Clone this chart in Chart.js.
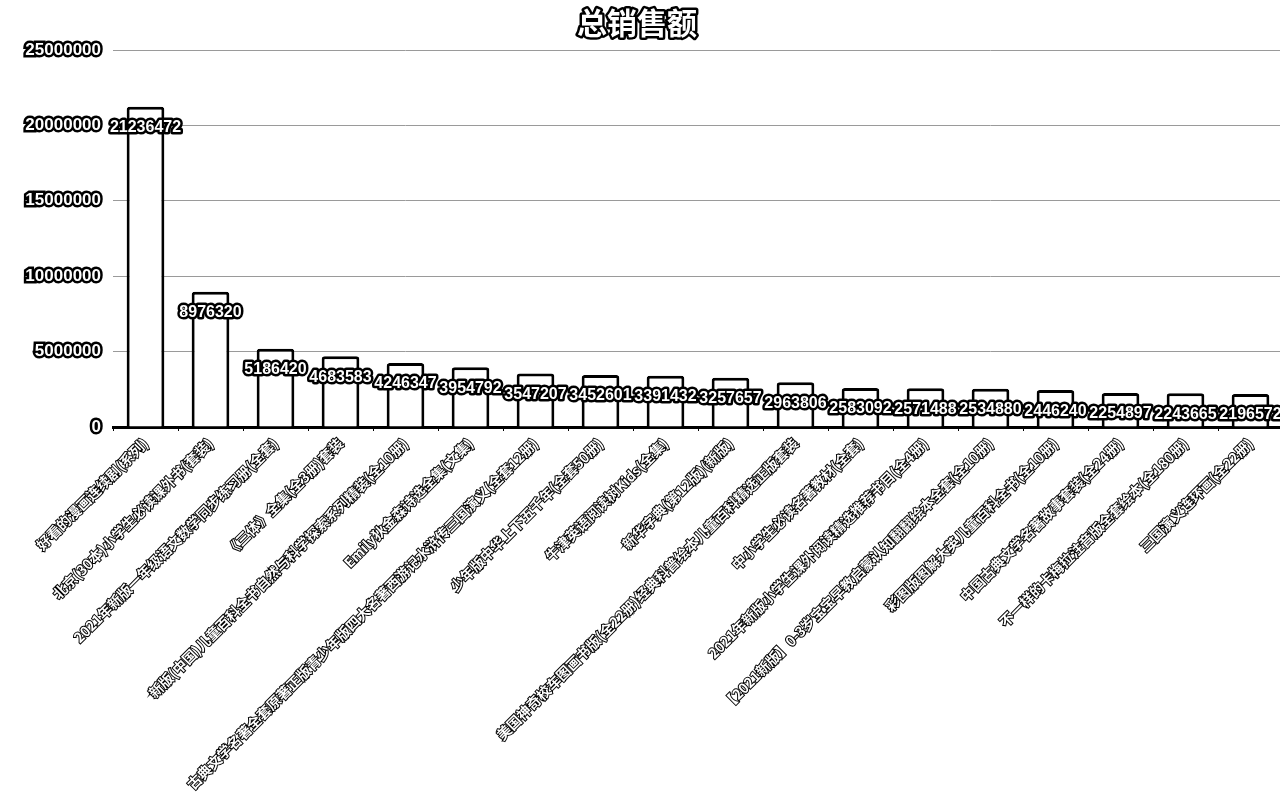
<!DOCTYPE html>
<html>
<head>
<meta charset="utf-8">
<script src="https://cdn.jsdelivr.net/npm/chart.js@4/dist/chart.umd.min.js"></script>
<style>
  html, body { margin: 0; padding: 0; background: #fff; overflow: hidden; width: 1280px; height: 800px; }
  #c { display: block; }
</style>
</head>
<body>
<canvas id="c" width="1290" height="800" style="width:1290px;height:800px"></canvas>
<script>
const chartTitle = '总销售额';
const categories = [
  '好看的漫画连续剧(系列)',
  '北京(30本)小学生必读课外书(套装)',
  '2021年新版一年级语文数学同步练习册(全套)',
  '《三体》全集(全3册)套装',
  '新版(中国)儿童百科全书自然与科学探索系列精装(全10册)',
  'Emily狄金森诗选全集(文集)',
  '古典文学名著全套原著正版青少年版四大名著西游记水浒传三国演义(全套12册)',
  '少年版中华上下五千年(全套50册)',
  '牛津英语阅读树Kids(全集)',
  '新华字典(第12版)(新版)',
  '美国神奇校车图画书版(全22册)经典科普绘本儿童百科精选正版套装',
  '中小学生必读名著教材(全套)',
  '2021年新版小学生课外阅读精选推荐书目(全4册)',
  '【2021新版】0-3岁宝宝早教启蒙认知翻翻绘本全套(全10册)',
  '彩图版图解大英儿童百科全书(全10册)',
  '中国古典文学名著故事套装(全24册)',
  '不一样的卡梅拉注音版全套绘本(全180册)',
  '三国演义连环画(全22册)'
];
const salesValues = [
  21236472, 8976320, 5186420, 4683583, 4246347, 3954792, 3547207, 3452601, 3391432,
  3257657, 2963806, 2583092, 2571488, 2534880, 2446240, 2254897, 2243665, 2196572
];
const yTickValues = [0, 5000000, 10000000, 15000000, 20000000, 25000000];

const NUM_FONT = "'Liberation Sans', Arial, 'Noto Sans CJK SC', sans-serif";
const CJK_FONT = "'Noto Sans CJK SC', 'Liberation Sans', sans-serif";

const titlePlugin = {
  id: 'strokeTitle',
  afterDraw(chart) {
    const ctx = chart.ctx;
    ctx.save();
    ctx.font = "bold 30px " + CJK_FONT;
    ctx.textAlign = 'center';
    ctx.textBaseline = 'middle';
    ctx.lineJoin = 'round';
    ctx.lineWidth = 5;
    ctx.strokeStyle = '#000';
    ctx.fillStyle = '#fff';
    ctx.strokeText(chartTitle, 637, 23);
    ctx.fillText(chartTitle, 637, 23);
    ctx.restore();
  }
};

const valueLabelPlugin = {
  id: 'valueLabels',
  afterDatasetsDraw(chart) {
    const ctx = chart.ctx;
    const meta = chart.getDatasetMeta(0);
    ctx.save();
    ctx.font = "bold 16px " + NUM_FONT;
    ctx.textAlign = 'center';
    ctx.textBaseline = 'middle';
    ctx.lineJoin = 'round';
    ctx.lineWidth = 5;
    ctx.strokeStyle = '#000';
    ctx.fillStyle = '#fff';
    meta.data.forEach((el, i) => {
      const txt = String(chart.data.datasets[0].data[i]);
      ctx.strokeText(txt, el.x, el.y + 21);
      ctx.fillText(txt, el.x, el.y + 21);
    });
    ctx.restore();
  }
};

new Chart(document.getElementById('c'), {
  type: 'bar',
  data: {
    labels: categories,
    datasets: [{
      label: chartTitle,
      data: salesValues,
      backgroundColor: '#ffffff',
      borderColor: '#000000',
      borderWidth: 3,
      borderRadius: 3,
      barPercentage: 0.58,
      categoryPercentage: 1.0
    }]
  },
  options: {
    responsive: false,
    animation: false,
    layout: { padding: { top: 50, right: 7, left: 0, bottom: 0 } },
    plugins: {
      legend: { display: false },
      title: { display: false },
      tooltip: { enabled: false }
    },
    scales: {
      x: {
        afterFit(scale) { scale.height = 373; },
        border: { display: true, color: '#000', width: 3 },
        grid: { display: true, drawOnChartArea: false, drawTicks: true, tickLength: 4, color: '#000' },
        ticks: {
          autoSkip: false,
          minRotation: 45,
          maxRotation: 45,
          padding: 4,
          color: '#ffffff',
          textStrokeColor: '#000000',
          textStrokeWidth: 2,
          font: { family: CJK_FONT, size: 14, weight: 'bold' }
        }
      },
      y: {
        min: 0,
        max: 25000000,
        afterFit(scale) { scale.width = 113; },
        afterBuildTicks(scale) { scale.ticks = yTickValues.map(v => ({ value: v })); },
        border: { display: false },
        grid: { color: '#9a9a9a', lineWidth: 1, drawTicks: false },
        ticks: {
          padding: 12,
          color: '#ffffff',
          textStrokeColor: '#000000',
          textStrokeWidth: 5,
          font: { family: NUM_FONT, size: 17, weight: 'bold' },
          callback: (v) => String(v)
        }
      }
    }
  },
  plugins: [titlePlugin, valueLabelPlugin]
});
</script>
</body>
</html>
